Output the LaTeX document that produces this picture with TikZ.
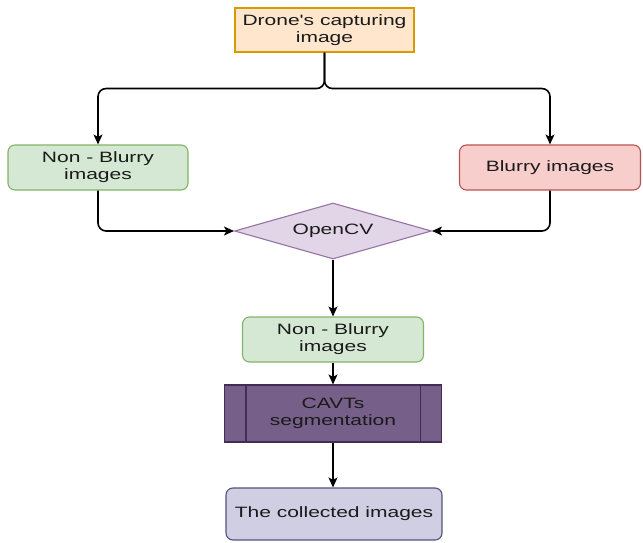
\documentclass[tikz,border=0pt]{standalone}
\usepackage{fontspec}
\setmainfont{Liberation Sans}[FakeStretch=1.4, Ligatures=TeXOff]
\usetikzlibrary{shapes.geometric,arrows.meta}
\definecolor{orfill}{HTML}{FFE6CC}
\definecolor{ordraw}{HTML}{D79B00}
\definecolor{grfill}{HTML}{D5E8D4}
\definecolor{grdraw}{HTML}{82B366}
\definecolor{rdfill}{HTML}{F8CECC}
\definecolor{rddraw}{HTML}{B85450}
\definecolor{pufill}{HTML}{E1D5E7}
\definecolor{pudraw}{HTML}{9673A6}
\definecolor{dpfill}{HTML}{76608A}
\definecolor{dpdraw}{HTML}{432D57}
\definecolor{lvfill}{HTML}{D0CEE2}
\definecolor{lvdraw}{HTML}{56517E}
\definecolor{txt}{HTML}{1A1A1A}
\begin{document}
\begin{tikzpicture}[x=1pt,y=-1pt,
  every node/.style={font=\fontsize{15}{17}\selectfont, text=txt, align=center, inner sep=0pt},
  box/.style={draw, line width=1.1pt, rounded corners=7pt},
  arr/.style={draw=black, line width=1.6pt, rounded corners=8pt, -{Stealth[length=10pt,width=9pt,inset=2.5pt]}}]
\useasboundingbox (0,0) rectangle (643,543);
\node[draw=ordraw, fill=orfill, line width=1.1pt, minimum width=179pt, minimum height=44pt] (top) at (324.5,30) {Drone's capturing\\image};
\node[box, draw=grdraw, fill=grfill, minimum width=180pt, minimum height=45pt] (nb1) at (98,167.5) {Non - Blurry\\images};
\node[box, draw=rddraw, fill=rdfill, minimum width=181pt, minimum height=45pt] (bl) at (550,167.5) {Blurry images};
\node[diamond, draw=pudraw, fill=pufill, line width=1.1pt, aspect=3.5, minimum width=197pt, minimum height=56pt] (cv) at (333,231) {OpenCV};
\node[box, draw=grdraw, fill=grfill, minimum width=181pt, minimum height=45pt] (nb2) at (333,339.5) {Non - Blurry\\images};
\node[draw=dpdraw, fill=dpfill, line width=1.1pt, minimum width=217pt, minimum height=57pt] (cavt) at (333,413.5) {CAVTs\\segmentation};
\draw[dpdraw, line width=1.1pt] ([xshift=22pt]cavt.north west) -- ([xshift=22pt]cavt.south west);
\draw[dpdraw, line width=1.1pt] ([xshift=-22pt]cavt.north east) -- ([xshift=-22pt]cavt.south east);
\node[box, draw=lvdraw, fill=lvfill, minimum width=216pt, minimum height=52pt] (col) at (334,514) {The collected images};
\draw[arr] (top.south) -- ++(0,36) -| (nb1.north);
\draw[arr] (top.south) -- ++(0,36) -| (bl.north);
\draw[arr] (nb1.south) |- (cv.west);
\draw[arr] (bl.south) |- (cv.east);
\draw[arr] (cv.south) -- (nb2.north);
\draw[arr] (nb2.south) -- (cavt.north);
\draw[arr] (cavt.south) -- (cavt.south |- col.north);
\end{tikzpicture}
\end{document}
